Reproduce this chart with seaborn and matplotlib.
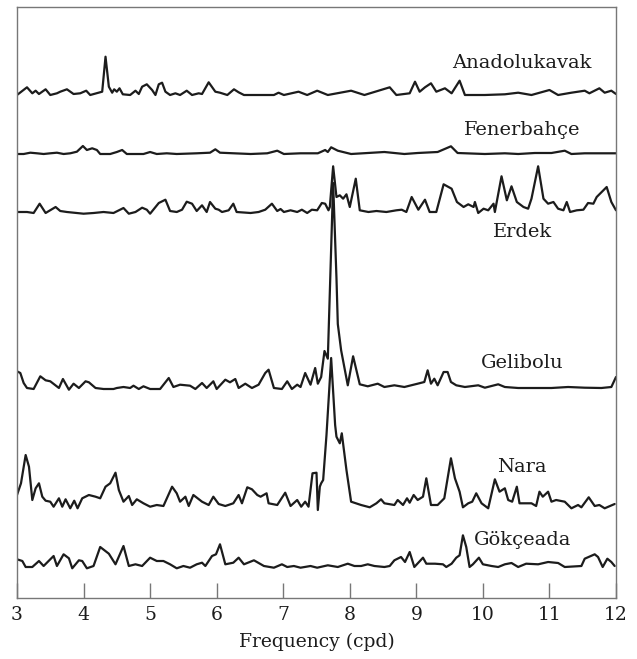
import matplotlib
matplotlib.use("Agg")
import matplotlib.pyplot as plt
import seaborn as sns
import pandas as pd

# ---------------- data ----------------
stations = ["Anadolukavak", "Fenerbahçe", "Erdek", "Gelibolu", "Nara", "Gökçeada"]

anadolukavak_f = [3.00, 3.15, 3.23, 3.28, 3.33, 3.43, 3.50, 3.60, 3.65, 3.75, 3.85, 3.95, 4.04, 4.10,
                  4.28, 4.33, 4.38, 4.43, 4.46, 4.50, 4.54, 4.59, 4.70, 4.78, 4.83, 4.88, 4.95, 5.03,
                  5.08, 5.13, 5.18, 5.23, 5.30, 5.38, 5.45, 5.55, 5.63, 5.73, 5.78, 5.88, 5.98, 6.05,
                  6.16, 6.26, 6.33, 6.41, 6.86, 6.93, 7.01, 7.23, 7.36, 7.51, 7.67, 8.02, 8.22, 8.60,
                  8.70, 8.90, 8.98, 9.05, 9.13, 9.22, 9.30, 9.43, 9.53, 9.65, 9.73, 10.03, 10.33,
                  10.53, 10.73, 11.00, 11.13, 11.33, 11.53, 11.60, 11.75, 11.83, 11.93, 12.00]
anadolukavak_a = [0, 7.7, 1.7, 4.3, 1, 5.7, 0, 1.7, 3.3, 5.7, 1, 1.7, 4.3, 0,
                  3.3, 38.3, 8.3, 2.3, 5.7, 3.3, 6.7, 0.7, 0, 4.3, 1, 8.3, 10.7, 5,
                  0, 10.7, 12.3, 3.3, 0, 1.7, 0, 4.3, 0, 1.7, 1, 12.7, 3.3, 2.3,
                  0, 5.7, 2.7, 0, 0, 2.3, 0, 3.3, 0, 4.3, 0, 4.3, 0, 7.7,
                  0, 1.7, 13.3, 3.3, 7.7, 11.7, 3.3, 6.7, 1.7, 14.3, 0, 0, 0.7,
                  2.3, 0, 5, 0, 2.3, 4.3, 1.7, 6.7, 2.3, 4.3, 1]

fenerbahce_f = [3.00, 3.10, 3.20, 3.30, 3.40, 3.50, 3.60, 3.70, 3.80, 3.90, 3.99, 4.05, 4.13, 4.20,
                4.25, 4.40, 4.50, 4.58, 4.65, 4.90, 5.00, 5.10, 5.25, 5.40, 5.70, 5.90, 5.98, 6.05,
                6.26, 6.51, 6.76, 6.91, 7.01, 7.26, 7.52, 7.63, 7.67, 7.72, 7.82, 8.02, 8.52, 8.82,
                9.02, 9.32, 9.52, 9.62, 10.03, 10.33, 10.53, 10.78, 11.03, 11.23, 11.33, 11.53, 12.00]
fenerbahce_a = [0, 0, 1.3, 0.7, 0, 0.7, 1.3, 0, 0.7, 2.3, 8, 4, 5.7, 4,
                0, 0, 2, 4, 0, 0, 2, 0, 0.7, 0, 0.7, 1.3, 4.7, 1.3,
                0.7, 0, 0.7, 3.3, 0, 0.7, 0.7, 4, 2, 6.7, 3.3, 0, 2, 0,
                1, 2, 7.7, 1, 0, 0.7, 0, 1, 1, 3.3, 0, 0.7, 0.7]

erdek_f = [3.00, 3.15, 3.25, 3.34, 3.43, 3.58, 3.65, 3.75, 4.00, 4.15, 4.30, 4.45, 4.60, 4.68,
           4.78, 4.88, 4.95, 5.00, 5.13, 5.23, 5.30, 5.40, 5.48, 5.55, 5.63, 5.70, 5.78, 5.85,
           5.90, 5.98, 6.03, 6.08, 6.18, 6.25, 6.30, 6.51, 6.63, 6.73, 6.83, 6.91, 6.96, 7.01,
           7.11, 7.21, 7.28, 7.36, 7.43, 7.51, 7.58, 7.63, 7.68, 7.70, 7.75, 7.80, 7.85, 7.90,
           7.95, 8.00, 8.09, 8.15, 8.28, 8.40, 8.55, 8.70, 8.78, 8.85, 8.93, 9.03, 9.13, 9.20,
           9.30, 9.41, 9.53, 9.61, 9.71, 9.78, 9.86, 9.88, 9.93, 10.01, 10.08, 10.16, 10.18,
           10.28, 10.36, 10.43, 10.51, 10.61, 10.68, 10.73, 10.83, 10.91, 10.98, 11.06, 11.13,
           11.21, 11.26, 11.31, 11.41, 11.51, 11.58, 11.66, 11.71, 11.86, 11.93, 12.00]
erdek_a = [0, 0, -1, 8.3, -1, 5, 1, 0, -1.7, -1, 0, -1, 4, -1.7,
           0, 4.3, 2.3, -1.7, 9, 12.3, 1, 0, 2.3, 10.3, 8.3, 1, 6.7, 0,
           10, 3.3, 2.3, 0, 1.7, 8.3, 0, -1, 0, 2.3, 8.3, 1, 3, 0,
           1.7, 0, 2.3, -1, 2.3, 1.7, 9, 8.3, 1.7, 5, 45.7, 15, 16.7, 13.3,
           17.7, 5, 33.3, 1.7, 0, 1, 0, 1.7, 2.3, 0, 15, 2.3, 12.3, 0,
           0, 27.7, 23.3, 10, 5, 7.7, 5, 10, -1, 3.3, 1.7, 8.3, 0,
           35.7, 11.7, 25.7, 10, 5, 3.3, 13.3, 45.7, 13.3, 8.3, 10, 3.3,
           1.7, 10, 0, 1.7, 2.3, 9, 8.3, 15, 25, 10, 1.7]

gelibolu_f = [3.00, 3.05, 3.10, 3.15, 3.25, 3.35, 3.43, 3.50, 3.63, 3.69, 3.78, 3.85, 3.93, 4.03,
              4.08, 4.18, 4.30, 4.45, 4.50, 4.60, 4.70, 4.75, 4.83, 4.90, 5.00, 5.15, 5.28, 5.35,
              5.45, 5.60, 5.68, 5.78, 5.85, 5.95, 6.00, 6.13, 6.20, 6.28, 6.33, 6.43, 6.53, 6.63,
              6.73, 6.78, 6.86, 6.98, 7.06, 7.13, 7.21, 7.26, 7.33, 7.41, 7.48, 7.52, 7.57, 7.62,
              7.67, 7.75, 7.80, 7.82, 7.87, 7.97, 8.05, 8.15, 8.27, 8.42, 8.52, 8.67, 8.82, 9.02,
              9.12, 9.17, 9.22, 9.27, 9.32, 9.41, 9.47, 9.52, 9.60, 9.73, 9.93, 10.03, 10.23,
              10.33, 10.53, 11.03, 11.28, 11.53, 11.78, 11.93, 12.00]
gelibolu_a = [16.7, 15, 5, 0, -1, 11.7, 7.7, 6.7, 0, 9, -1.7, 4.3, 0, 6.7,
              5.7, 0, -1, -1, 0, 1, 0, 2.3, -1, 1.7, -1, -1, 10, 1,
              3.3, 2.3, -1, 5, 0, 6.7, -1, 8.3, 5.7, 9, 0, 4.3, 0, 3.3,
              15, 18.3, 0, -1, 6.7, -1, 3.3, 1, 15, 3.3, 20, 4.3, 11, 37,
              29.3, 205, 110, 64, 37.7, 2.7, 31.7, 3.7, 1.7, 4.3, 1, 2.7, 1, 4.3,
              6, 17.7, 4.3, 9.3, 2.7, 16, 16, 6, 2.7, 1, 2.7, 0.3, 3.7,
              1, 0, 0, 1, 0.3, 0, 1, 11]

nara_f = [3.00, 3.06, 3.13, 3.18, 3.23, 3.28, 3.33, 3.38, 3.43, 3.50, 3.55, 3.63, 3.68, 3.73,
          3.80, 3.86, 3.91, 3.98, 4.08, 4.18, 4.25, 4.33, 4.40, 4.48, 4.53, 4.60, 4.68, 4.73,
          4.80, 4.90, 5.00, 5.10, 5.20, 5.33, 5.40, 5.45, 5.53, 5.58, 5.65, 5.78, 5.88, 5.95,
          6.03, 6.13, 6.25, 6.33, 6.38, 6.46, 6.53, 6.61, 6.66, 6.75, 6.78, 6.91, 7.03, 7.11,
          7.21, 7.27, 7.33, 7.38, 7.44, 7.50, 7.52, 7.55, 7.57, 7.60, 7.65, 7.72, 7.78, 7.80,
          7.85, 7.88, 7.95, 8.02, 8.17, 8.30, 8.40, 8.47, 8.52, 8.67, 8.72, 8.80, 8.86, 8.90,
          8.96, 9.02, 9.10, 9.15, 9.22, 9.32, 9.42, 9.52, 9.58, 9.65, 9.70, 9.78, 9.84, 9.90,
          9.98, 10.08, 10.18, 10.25, 10.33, 10.38, 10.44, 10.51, 10.55, 10.73, 10.80, 10.85,
          10.90, 10.98, 11.03, 11.10, 11.23, 11.33, 11.43, 11.48, 11.59, 11.68, 11.75, 11.83, 11.98]
nara_a = [10, 21.7, 50, 38.3, 5, 16.7, 21.7, 8.3, 4.3, 3.3, -1.7, 6.7, -1.7, 5.7,
          -3.3, 4.3, -3.3, 6.7, 10, 8.3, 6.7, 18.3, 21.7, 32.3, 15, 3.3, 9, 0,
          5.7, 1.7, -1.7, 0, -1, 18.3, 11.7, 3.3, 8.3, -1, 10, 3.3, 0, 8.3,
          1, -1, 1.7, 10, 1.7, 17.7, 15.7, 10, 8.3, 11.7, 1.7, 0, 12.3, -1,
          5, -1.7, 3.3, -1.7, 31.7, 32.3, -5, 18.3, 21.7, 25, 70, 147, 80, 68.3,
          61.7, 71.7, 35, 3.3, 0, -2.3, 1.7, 5.7, 1.7, 0, 5, 0, 6.7, 2.3,
          10, 5, 8.3, 26.7, 0, 0, 6.7, 46.7, 26.7, 13.3, -2.3, 1.7, 3.3, 11.7,
          1.7, -3.3, 25.7, 13.3, 16.7, 5, 3.3, 18.3, 1.7, 1.7, -1, 13.3,
          8.3, 13.3, 3.3, 5, 3.3, -3.3, 0, -2.3, 7.7, -1, 0, -3.3, 1]

gokceada_f = [3.00, 3.08, 3.13, 3.23, 3.33, 3.40, 3.50, 3.55, 3.60, 3.70, 3.78, 3.83, 3.93, 3.98,
              4.05, 4.15, 4.25, 4.38, 4.48, 4.60, 4.68, 4.78, 4.88, 5.00, 5.10, 5.20, 5.30, 5.40,
              5.50, 5.60, 5.70, 5.78, 5.83, 5.93, 5.99, 6.05, 6.13, 6.25, 6.33, 6.41, 6.56, 6.71,
              6.86, 6.98, 7.06, 7.16, 7.26, 7.41, 7.51, 7.67, 7.82, 7.97, 8.07, 8.17, 8.27, 8.37,
              8.52, 8.60, 8.67, 8.77, 8.83, 8.90, 8.97, 9.10, 9.15, 9.28, 9.40, 9.45, 9.53, 9.60,
              9.65, 9.70, 9.75, 9.80, 9.85, 9.94, 10.00, 10.13, 10.23, 10.33, 10.43, 10.53, 10.65,
              10.83, 10.98, 11.13, 11.23, 11.48, 11.53, 11.68, 11.73, 11.80, 11.87, 11.93, 11.98]
gokceada_a = [6.7, 5, -1, -1, 5, 0, 6.7, 10, 0, 11.7, 7.7, -2.3, 5.7, 5,
              -2.3, 0, 19, 12.3, 1.7, 20, 0, 1.7, 0, 8.3, 5, 5, 1.7, -2.3,
              0, -1.7, 1.7, 3.3, 0, 10, 11.7, 21.7, 1.7, 3.3, 8.3, 1.7, 5.7, 0,
              -1.7, 1.7, -1, 0, -1.7, 0, -1.7, 0.7, -1, 2.3, 0, 0, 1.7, 0,
              -1, 0, 5.7, 9, 4, 14, -1, 8.3, 2.3, 2.3, 1.7, -1, 2.3, 8.3,
              10.7, 30.7, 19, -1, 1.7, 8.3, 1.7, 0, -1, 1.7, 3, -1, 2.3,
              1.7, 4, 3, -1, 0, 7.3, 11.7, 9, -1, 7.3, 4, 0]

xticks = [3, 4, 5, 6, 7, 8, 9, 10, 11, 12]
xlabel = "Frequency (cpd)"

# ---------------- layout / style ----------------
freqs = [anadolukavak_f, fenerbahce_f, erdek_f, gelibolu_f, nara_f, gokceada_f]
amps = [anadolukavak_a, fenerbahce_a, erdek_a, gelibolu_a, nara_a, gokceada_a]
offsets = [503, 444, 386, 210, 93, 32]          # vertical stacking of the traces
label_y = [535, 468, 366, 235, 131, 58]         # label positions
label_x = 10.59

frames = []
for name, f, a, off in zip(stations, freqs, amps, offsets):
    frames.append(pd.DataFrame({"freq": f, "y": [off + v for v in a], "station": name}))
df = pd.concat(frames, ignore_index=True)

sns.set_style("white")
plt.rcParams["font.family"] = ["DejaVu Serif"]

fig = plt.figure(figsize=(6.37, 6.59), dpi=100)
ax = fig.add_axes([17 / 637, 61 / 659, 599 / 637, 591 / 659])

for name in stations:
    sub = df[df["station"] == name]
    sns.lineplot(data=sub, x="freq", y="y", ax=ax, color="#1c1c1c", linewidth=1.6,
                 estimator=None, sort=False, legend=False)

for name, ly in zip(stations, label_y):
    ax.text(label_x, ly, name, ha="center", va="center", fontsize=14, color="#1c1c1c")

ax.set_xlim(3, 12)
ax.set_ylim(0, 591)
ax.set_xticks(xticks)
ax.set_xticklabels([str(t) for t in xticks], fontsize=13.5, color="#1c1c1c")
ax.set_yticks([])
ax.set_ylabel("")
ax.set_xlabel(xlabel, fontsize=13.5, color="#1c1c1c", labelpad=6)
ax.tick_params(axis="x", direction="in", length=11, width=1.0, color="#777777", pad=6, bottom=True)
for s in ax.spines.values():
    s.set_visible(True)
    s.set_color("#777777")
    s.set_linewidth(1.0)

fig.savefig("out.png", dpi=100)
